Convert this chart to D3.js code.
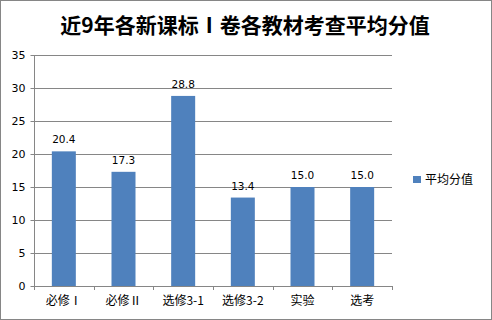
<!DOCTYPE html>
<html>
<head>
<meta charset="utf-8">
<script src="https://cdn.jsdelivr.net/npm/d3@7.9.0/dist/d3.min.js"></script>
<style>
  body { margin: 0; background: #fff; }
  svg text { font-family: "DejaVu Sans", "Noto Sans CJK SC", sans-serif; }
</style>
</head>
<body>
<svg id="chart" width="492" height="320"></svg>
<script>
// chart data
const categories = ['必修Ⅰ', '必修Ⅱ', '选修3-1', '选修3-2', '实验', '选考'];
const avgScores = [20.4, 17.3, 28.8, 13.4, 15.0, 15.0];
const yTicks = [0, 5, 10, 15, 20, 25, 30, 35];
const seriesName = '平均分值';
const title = '近9年各新课标Ⅰ卷各教材考查平均分值';

const svg = d3.select('#chart');
const W = 492, H = 320;
const margin = { left: 34, right: 100, top: 55, bottom: 34 };

// outer border
svg.append('rect')
  .attr('x', 0.5).attr('y', 0.5)
  .attr('width', W - 1).attr('height', H - 1)
  .attr('fill', '#fff').attr('stroke', '#868686');

// title
svg.append('text')
  .attr('x', 245).attr('y', 33)
  .attr('text-anchor', 'middle')
  .attr('font-size', 21).attr('font-weight', 'bold')
  .style('font-family', '"Noto Sans CJK SC", sans-serif')
  .text(title);

const x = d3.scaleBand()
  .domain(categories)
  .range([margin.left, W - margin.right]);

const y = d3.scaleLinear()
  .domain([0, 35])
  .range([H - margin.bottom, margin.top]);

// gridlines
svg.append('g')
  .selectAll('line')
  .data(yTicks.filter(d => d > 0))
  .join('line')
  .attr('x1', margin.left).attr('x2', W - margin.right)
  .attr('y1', d => Math.round(y(d)) + 0.5).attr('y2', d => Math.round(y(d)) + 0.5)
  .attr('stroke', '#868686');

// y axis
const yAxis = svg.append('g')
  .attr('transform', `translate(${margin.left + 0.5},0)`)
  .call(d3.axisLeft(y).tickValues(yTicks).tickSize(4).tickPadding(5));
yAxis.selectAll('path, line').attr('stroke', '#868686');
yAxis.selectAll('text').attr('font-size', 11).attr('fill', '#000')
  .style('font-family', '"DejaVu Sans", sans-serif');
yAxis.select('.domain').attr('d', `M0,${y(35)}V${y(0)}`);

// x axis
const xAxis = svg.append('g')
  .attr('transform', `translate(0,${Math.round(y(0)) + 0.5})`)
  .call(d3.axisBottom(x).tickSize(0).tickPadding(10));
xAxis.select('.domain').attr('stroke', '#868686').attr('d', `M${margin.left},0H${W - margin.right}`);
xAxis.selectAll('text').attr('font-size', 12).attr('fill', '#000')
  .style('font-family', '"Noto Sans CJK SC", sans-serif');
// category boundary ticks
svg.append('g')
  .selectAll('line')
  .data(d3.range(categories.length + 1))
  .join('line')
  .attr('x1', i => Math.round(margin.left + i * x.step()) + 0.5)
  .attr('x2', i => Math.round(margin.left + i * x.step()) + 0.5)
  .attr('y1', y(0)).attr('y2', y(0) + 4)
  .attr('stroke', '#868686');

// bars
const barW = 24;
svg.append('g')
  .selectAll('rect')
  .data(avgScores)
  .join('rect')
  .attr('x', (d, i) => x(categories[i]) + x.bandwidth() / 2 - barW / 2)
  .attr('y', d => y(d))
  .attr('width', barW)
  .attr('height', d => y(0) - y(d))
  .attr('fill', '#4F81BD');

// value labels
svg.append('g')
  .selectAll('text')
  .data(avgScores)
  .join('text')
  .attr('x', (d, i) => x(categories[i]) + x.bandwidth() / 2)
  .attr('y', d => y(d) - 8)
  .attr('text-anchor', 'middle')
  .attr('font-size', 10.5)
  .text(d => d.toFixed(1));

// legend
const legend = svg.append('g').attr('transform', 'translate(413,176)');
legend.append('rect').attr('width', 8).attr('height', 7).attr('fill', '#4F81BD');
legend.append('text')
  .attr('x', 12).attr('y', 8)
  .attr('font-size', 12)
  .style('font-family', '"Noto Sans CJK SC", sans-serif')
  .text(seriesName);
</script>
</body>
</html>
